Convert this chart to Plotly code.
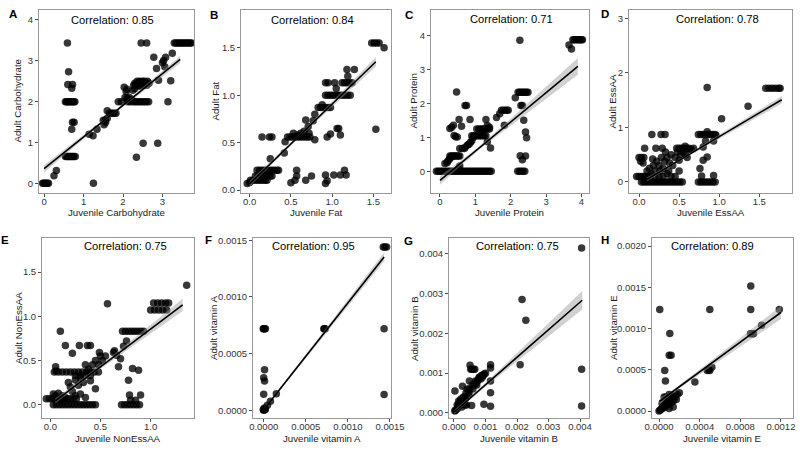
import plotly.graph_objects as go

# ---------------- data ----------------
# Panel A: Carbohydrate
a_x = [-0.04, -0.01, 0.02, 0.05, 0.08, 0.11, 0.25, 0.31,
       0.59, 0.62, 0.60, 0.72, 0.70,
       0.54, 0.57, 0.60, 0.63, 0.66, 0.69, 0.72, 0.75, 0.78,
       0.72, 0.76, 0.70,
       0.54, 0.57, 0.60, 0.63, 0.66, 0.69, 0.72, 0.75, 0.79,
       1.14, 1.24, 1.34, 1.25,
       1.52, 1.55, 1.60, 1.60, 1.66, 1.70, 1.74, 1.78, 1.82, 1.50, 1.56,
       1.88, 1.96, 2.03, 2.08, 2.10, 2.05, 2.10, 2.13, 2.16, 2.20, 2.23, 2.12, 2.18,
       2.25, 2.30, 2.35, 2.40, 2.45, 2.50, 2.55, 2.60, 2.65,
       2.27, 2.30, 2.33, 2.36, 2.40, 2.43, 2.46, 2.50, 2.54, 2.58, 2.62, 2.66, 2.38, 2.45, 2.52, 2.60, 2.30, 2.25,
       2.46, 2.60, 2.51, 2.34,
       2.78, 2.85, 2.90, 2.88,
       3.00, 3.03, 3.08, 3.06, 3.14, 3.21, 3.25,
       3.30, 3.34, 3.38, 3.42, 3.46, 3.50, 3.54, 3.58, 3.62, 3.66, 3.70, 3.74]
a_y = [0.02, 0.02, 0.02, 0.02, 0.02, 0.02, 0.20, 0.33,
       3.43, 2.73, 2.42, 2.42, 2.33,
       2.0, 2.0, 2.0, 2.0, 2.0, 2.0, 2.0, 2.0, 2.0,
       1.50, 1.50, 1.33,
       0.67, 0.67, 0.67, 0.67, 0.67, 0.67, 0.67, 0.67, 0.67,
       1.21, 1.17, 1.33, 0.02,
       1.44, 1.55, 1.60, 1.78, 1.72, 1.72, 1.72, 1.72, 1.72, 1.55, 1.50,
       2.00, 2.00, 2.35, 2.25, 2.30, 2.10, 2.08, 2.05, 2.10, 2.06, 2.04, 2.00, 2.00,
       2.0, 2.0, 2.0, 2.0, 2.0, 2.0, 2.0, 2.0, 2.0,
       2.40, 2.45, 2.42, 2.50, 2.48, 2.50, 2.45, 2.50, 2.50, 2.48, 2.50, 2.45, 2.38, 2.38, 2.40, 2.40, 2.32, 2.28,
       3.43, 3.43, 0.99, 0.65,
       3.08, 2.81, 2.52, 0.99,
       2.95, 3.00, 3.08, 2.85, 2.00, 2.51, 3.18,
       3.43, 3.43, 3.43, 3.43, 3.43, 3.43, 3.43, 3.43, 3.43, 3.43, 3.43, 3.43]

# Panel B: Fat
b_x = [-0.03, 0.00,
       0.01, 0.04, 0.07, 0.10, 0.13, 0.16, 0.19, 0.21,
       0.07, 0.10, 0.13, 0.16, 0.19, 0.22, 0.25, 0.27,
       0.09, 0.12, 0.15, 0.18, 0.21, 0.24, 0.27, 0.30, 0.33, 0.35,
       0.25, 0.15, 0.24, 0.27, 0.42, 0.43,
       0.46, 0.49, 0.52, 0.55, 0.58, 0.61, 0.64, 0.67, 0.70, 0.73,
       0.53, 0.58, 0.62, 0.66, 0.68, 0.71, 0.72,
       0.79, 0.77, 0.79,
       0.83, 0.86, 0.89, 0.92, 0.95, 0.98, 0.88,
       0.92, 0.95,
       0.92, 0.95, 0.98, 1.01, 1.04, 1.07, 1.10, 1.13, 1.16, 1.19, 1.22,
       1.03, 1.05,
       1.12, 1.15, 1.18, 1.21, 1.24,
       1.18, 1.19, 1.27,
       0.94, 0.98, 1.06, 1.10, 1.08,
       0.50, 0.55, 0.57, 0.57, 0.68, 0.75, 0.92, 0.94, 0.92, 1.02, 1.10, 1.15, 1.17,
       1.53,
       1.48, 1.51, 1.54, 1.57, 1.63]
b_y = [0.07, 0.08,
       0.105, 0.105, 0.105, 0.105, 0.105, 0.105, 0.105, 0.105,
       0.15, 0.15, 0.15, 0.15, 0.15, 0.15, 0.15, 0.15,
       0.21, 0.21, 0.21, 0.21, 0.21, 0.21, 0.21, 0.21, 0.21, 0.21,
       0.33, 0.56, 0.56, 0.56, 0.39, 0.51,
       0.56, 0.56, 0.56, 0.56, 0.56, 0.56, 0.56, 0.56, 0.56, 0.56,
       0.60, 0.58, 0.60, 0.62, 0.74, 0.67, 0.60,
       0.80, 0.73, 0.53,
       0.87, 0.87, 0.87, 0.87, 0.87, 0.87, 0.90,
       1.13, 1.13,
       1.0, 1.0, 1.0, 1.0, 1.0, 1.0, 1.0, 1.0, 1.0, 1.0, 1.0,
       1.13, 1.07,
       1.13, 1.13, 1.13, 1.13, 1.13,
       1.27, 1.20, 1.27,
       0.56, 0.59, 0.65, 0.58, 0.65,
       0.077, 0.105, 0.15, 0.21, 0.105, 0.15, 0.07, 0.10, 0.16, 0.16, 0.16, 0.21, 0.16,
       0.64,
       1.55, 1.55, 1.55, 1.55, 1.50]

# Panel C: Protein
c_x = [-0.10, -0.05, 0.00, 0.05, 0.10, 0.15, 0.20, 0.25, 0.30, 0.35, 0.40, 0.45, 0.50, 0.55, 0.60, 0.65,
       0.70, 0.75, 0.80, 0.85, 0.90, 0.95, 1.00, 1.05, 1.10, 1.15, 1.20, 1.25, 1.30, 1.35, 1.40, 1.45,
       2.20, 2.25, 2.30, 2.35, 2.40,
       0.14, 0.20, 0.22, 0.26, 0.30,
       0.28, 0.32, 0.36, 0.40, 0.44, 0.48, 0.52, 0.56,
       0.28, 0.38, 0.33, 0.40, 0.44, 0.49, 0.47, 0.54, 0.61, 0.56, 0.63, 0.69, 0.71, 0.75, 0.85,
       0.72, 0.78, 0.82, 0.86, 0.90, 0.94,
       0.90, 0.95, 1.00, 1.05, 1.10, 1.15, 1.20, 1.25, 1.30,
       1.04, 1.10, 1.15, 1.20, 1.25, 1.30, 1.35, 1.40,
       1.30, 1.34, 1.40, 1.34, 1.43,
       0.56, 0.52,
       1.60, 1.69, 1.74, 1.79, 1.84, 1.89, 1.93, 1.82,
       2.13, 2.26,
       2.21, 2.25, 2.29, 2.33, 2.37, 2.41, 2.45, 2.49,
       2.29, 2.33, 2.37, 2.42, 2.45, 2.27, 2.33, 2.42,
       3.65, 3.72,
       3.76, 3.80, 3.84, 3.88, 3.92, 3.96, 4.00, 4.03]
c_y = [0.0] * 32 + [0.0] * 5 + \
      [0.23, 0.25, 0.30, 0.35, 0.40] + [0.45] * 8 + \
      [1.26, 1.36, 1.30, 1.06, 1.02, 1.01, 2.34, 1.53, 1.33, 0.67, 0.67, 0.67, 1.94, 1.94, 1.53,
       0.72, 0.78, 0.80, 0.85, 0.90, 1.00] + [1.05] * 9 + [1.25] * 8 + \
      [1.53, 1.35, 1.30, 0.87, 0.69,
       0.16, 0.08,
       1.59, 1.70, 1.80, 1.80, 1.80, 1.80, 1.80, 1.36,
       2.17, 3.87] + [2.33] * 8 + \
      [1.94, 1.94, 1.51, 1.16, 0.99, 0.46, 0.34, 0.45,
       3.73, 3.61] + [3.88] * 8

# Panel D: EssAA
d_x = [0.03, 0.06, 0.09, 0.12, 0.15, 0.18, 0.21, 0.24, 0.27, 0.30, 0.33, 0.36, 0.39, 0.42, 0.45, 0.48, 0.51, 0.54,
       0.74, 0.77, 0.80, 0.83, 0.86, 0.89, 0.92, 0.95,
       -0.03, 0.00, 0.03, 0.06, 0.09, 0.12, 0.14,
       0.00, 0.03, 0.06, 0.02, 0.05,
       0.07, 0.16, 0.275, 0.325, 0.21, 0.29,
       0.10, 0.13, 0.15, 0.18, 0.20, 0.22, 0.25, 0.25, 0.28, 0.30, 0.32, 0.35, 0.35, 0.38, 0.40, 0.42, 0.45, 0.48,
       0.50, 0.50, 0.52, 0.55, 0.58, 0.45, 0.40, 0.30, 0.20, 0.12, 0.17, 0.26, 0.33, 0.37, 0.60, 0.62, 0.65, 0.68,
       0.47, 0.50, 0.53, 0.56, 0.59, 0.62, 0.575,
       0.85,
       0.74, 0.77, 0.80, 0.83, 0.86, 0.89, 0.92, 0.95, 0.85,
       0.83, 0.80, 0.80, 0.85, 0.76, 0.78, 0.93, 0.93, 0.96,
       1.03, 1.36,
       1.58, 1.62, 1.66, 1.70, 1.74, 1.76]
d_y = [0.0] * 26 + [0.1] * 7 + \
      [0.45, 0.45, 0.45, 0.38, 0.35,
       0.62, 0.87, 0.87, 0.87, 0.62, 0.62,
       0.20, 0.25, 0.15, 0.30, 0.20, 0.38, 0.10, 0.30, 0.45, 0.25, 0.38, 0.45, 0.15, 0.35, 0.50, 0.30, 0.45, 0.55,
       0.40, 0.20, 0.50, 0.55, 0.50, 0.10, 0.10, 0.10, 0.10, 0.05, 0.42, 0.20, 0.55, 0.20, 0.45, 0.60, 0.60, 0.62] + \
      [0.62] * 6 + [0.655, 1.73] + [0.87] * 8 + \
      [0.92, 0.75, 0.64, 0.40, 0.46, 0.245, 0.11, 0.12, 0.75, 0.85,
       1.16, 1.39] + [1.72] * 6

# Panel E: NonEssAA
e_x = [-0.04, -0.01, 0.02, 0.05, 0.08, 0.11, 0.14, 0.17, 0.20, 0.23, 0.26,
       0.03, 0.06, 0.09, 0.12, 0.15, 0.18, 0.21, 0.24, 0.27, 0.30, 0.33, 0.36, 0.39, 0.42, 0.45,
       0.71, 0.74, 0.77, 0.80, 0.83, 0.86, 0.89,
       0.05, 0.08, 0.10, 0.12, 0.03, 0.15,
       0.10, 0.053, 0.06, 0.15, 0.22,
       0.04, 0.08, 0.12, 0.16, 0.20, 0.24, 0.28, 0.32, 0.36, 0.40, 0.44, 0.48,
       0.25, 0.30, 0.35, 0.40,
       0.29, 0.37, 0.40,
       0.18, 0.20, 0.22, 0.25, 0.28, 0.30, 0.33, 0.35, 0.38, 0.40, 0.42, 0.45, 0.45, 0.48, 0.50, 0.52, 0.55,
       0.49, 0.57, 0.63, 0.64, 0.68, 0.70, 0.66, 0.30, 0.25, 0.35,
       0.72, 0.75, 0.78, 0.81, 0.84, 0.87, 0.90, 0.93,
       0.73, 0.76, 0.78, 0.82, 0.88, 0.79, 0.90, 0.80, 0.85,
       1.00, 1.04, 1.08, 1.12, 1.16,
       1.03, 1.07, 1.11, 1.15, 1.18,
       1.36]
e_y = [0.068] * 11 + [0.0] * 15 + [0.0] * 7 + \
      [0.10, 0.13, 0.05, 0.10, 0.12, 0.08,
       0.83, 0.43, 0.38, 0.67, 0.58] + [0.37] * 12 + [0.33] * 4 + \
      [0.67, 0.67, 0.67,
       0.25, 0.20, 0.15, 0.28, 0.22, 0.30, 0.25, 0.45, 0.40, 0.27, 0.45, 0.18, 0.50, 0.45, 0.55, 0.50, 0.55,
       0.59, 1.14, 0.59, 0.61, 0.43, 0.52, 0.56, 0.12, 0.10, 0.08] + [0.83] * 8 + \
      [0.66, 0.72, 0.275, 0.41, 0.39, 0.11, 0.11, 0.05, 0.05] + [1.07] * 5 + [1.15] * 5 + [1.35]

# Panel F: vitamin A
f_x = [0.0, 0.000005, 0.00001, 0.000015, -0.000005, 0.00002, 0.000008,
       0.0, 0.00001, 0.00002, -0.000005,
       0.00001, 0.0, 0.00001, 0.0,
       0.000044, 0.00008, 0.00015,
       0.000714, 0.000722, 0.00073,
       0.00142, 0.00144, 0.00146,
       0.00143, 0.00143]
f_y = [0.0, 0.000005, 0.00001, 0.000005, 0.000008, 0.000015, 0.00002,
       0.00072, 0.00072, 0.00072, 0.00072,
       0.000359, 0.000288, 0.000259, 0.000141,
       0.000044, 0.00008, 0.000147,
       0.00072, 0.00072, 0.00072,
       0.00144, 0.00144, 0.00144,
       0.00072, 0.00014]

# Panel G: vitamin B
g_x = [0.00004, 0.00003, 0.00003, 0.0001, 0.00012, 0.00015, 0.00018, 0.0002, 0.00022, 0.00025,
       0.00027, 0.0003, 0.00032, 0.00035, 0.00038, 0.0004, 0.0004, 0.00042, 0.00045, 0.00048,
       0.00049, 0.0005, 0.00051, 0.00053, 0.00056, 0.00057, 0.00058, 0.0006, 0.00062, 0.00065,
       0.00066, 0.00068, 0.0007, 0.00072, 0.00075, 0.00078, 0.0008, 0.00083, 0.00085, 0.00088,
       0.0009, 0.00093, 0.00095, 0.00096, 0.001, 0.00015, 0.00025, 0.00035, 0.0001, 0.0002,
       0.00116, 0.00116, 0.00116, 0.00116, 0.00116,
       0.0021, 0.00216, 0.00228,
       0.00405, 0.00405, 0.00405]
g_y = [0.00007, 0.00005, 0.00055, 0.0001, 0.00015, 0.0002, 0.00025, 0.0003, 0.00035, 0.0003,
       0.00067, 0.0004, 0.00025, 0.0004, 0.0005, 0.0002, 0.0004, 0.0006, 0.00045, 0.0005,
       0.0008, 0.0006, 0.0012, 0.0011, 0.00019, 0.0011, 0.0007, 0.0006, 0.0011, 0.0007,
       0.0011, 0.0008, 0.00075, 0.0007, 0.0008, 0.00085, 0.0009, 0.0009, 0.00085, 0.00095,
       0.0009, 0.00095, 0.00022, 0.00098, 0.001, 0.0003, 0.00015, 0.0002, 0.0002, 0.0002,
       0.00121, 0.00113, 0.0008, 0.00051, 0.00017,
       0.00121, 0.00285, 0.00233,
       0.00414, 0.0011, 0.000176]

# Panel H: vitamin E
h_x = [0.0, 0.00001, 0.00002, 0.00003, 0.00004, 0.00005, 0.00006, 0.00007, 0.00008, 0.00009,
       0.0001, 0.00011, 0.00012, 0.00013, 0.00014, 0.00015, 0.00016, 0.00017, 0.00018, 0.0002,
       0.00005, 0.00007, 0.0001, 0.00012, 0.00003, 0.0001, 0.00014,
       0.000007, 0.000056, 0.000063, 0.000106, 0.0001, 0.000119,
       0.000353, 0.000475, 0.00049, 0.0005, 0.00052, 0.0005,
       0.000903, 0.000903, 0.0009, 0.00092, 0.00093,
       0.00101, 0.001184]
h_y = [0.0, 0.00001, 0.00002, 0.00003, 0.00005, 0.00004, 0.00008, 0.00006, 0.0001, 0.00012,
       0.00008, 0.00015, 0.0001, 0.00017, 0.00012, 0.00015, 0.00018, 0.00014, 0.0002, 0.00022,
       0.00017, 0.00017, 0.0002, 0.00019, 0.00009, 0.00003, 0.00005,
       0.00123, 0.00049, 0.000364, 0.00094, 0.000675, 0.000675,
       0.000352, 0.00049, 0.0005, 0.00049, 0.00053, 0.00123,
       0.001515, 0.00123, 0.000937, 0.000937, 0.000937,
       0.00104, 0.00123]

# fitted lines (intercept, slope, x start, x end) and CI half-widths (left, middle, right)
fit_intercept = [0.37, 0.067, -0.27, -0.04, 0.0, 0.000006, 0.000018, 0.000114]
fit_slope = [0.77, 0.84, 0.863, 0.87, 0.855, 0.942, 0.691, 0.90]
fit_x0 = [0.0, 0.0, 0.0, 0.1, 0.05, 0.0, 0.00001, 0.000005]
fit_x1 = [3.45, 1.53, 3.9, 1.78, 1.32, 0.00143, 0.00407, 0.0012]
fit_xmid = [1.75, 0.55, 1.0, 0.45, 0.4, 0.00015, 0.0006, 0.00015]
ci_left = [0.09, 0.03, 0.13, 0.04, 0.03, 0.00001, 0.00005, 0.00004]
ci_mid = [0.03, 0.015, 0.05, 0.02, 0.02, 0.00001, 0.00004, 0.00002]
ci_right = [0.09, 0.05, 0.25, 0.07, 0.07, 0.00004, 0.00023, 0.00008]

correlations = ["0.85", "0.84", "0.71", "0.78", "0.75", "0.95", "0.75", "0.89"]
letters = ["A", "B", "C", "D", "E", "F", "G", "H"]
x_titles = ["Juvenile Carbohydrate", "Juvenile Fat", "Juvenile Protein", "Juvenile EssAA",
            "Juvenile NonEssAA", "Juvenile vitamin A", "Juvenile vitamin B", "Juvenile vitamin E"]
y_titles = ["Adult Carbohydrate", "Adult Fat", "Adult Protein", "Adult EssAA",
            "Adult NonEssAA", "Adult vitamin A", "Adult vitamin B", "Adult vitamin E"]

x_tickvals = [[0, 1, 2, 3], [0, 0.5, 1.0, 1.5], [0, 1, 2, 3, 4], [0, 0.5, 1.0, 1.5],
              [0, 0.5, 1.0], [0, 0.0005, 0.001, 0.0015], [0, 0.001, 0.002, 0.003, 0.004],
              [0, 0.0004, 0.0008, 0.0012]]
x_ticktext = [["0", "1", "2", "3"], ["0.0", "0.5", "1.0", "1.5"], ["0", "1", "2", "3", "4"],
              ["0.0", "0.5", "1.0", "1.5"], ["0.0", "0.5", "1.0"],
              ["0.0000", "0.0005", "0.0010", "0.0015"],
              ["0.000", "0.001", "0.002", "0.003", "0.004"],
              ["0.0000", "0.0004", "0.0008", "0.0012"]]
y_tickvals = [[0, 1, 2, 3, 4], [0, 0.5, 1.0, 1.5], [0, 1, 2, 3, 4], [0, 1, 2, 3],
              [0, 0.5, 1.0, 1.5], [0, 0.0005, 0.001, 0.0015], [0, 0.001, 0.002, 0.003, 0.004],
              [0, 0.0005, 0.001, 0.0015, 0.002]]
y_ticktext = [["0", "1", "2", "3", "4"], ["0.0", "0.5", "1.0", "1.5"], ["0", "1", "2", "3", "4"],
              ["0", "1", "2", "3"], ["0.0", "0.5", "1.0", "1.5"],
              ["0.0000", "0.0005", "0.0010", "0.0015"],
              ["0.000", "0.001", "0.002", "0.003", "0.004"],
              ["0.0000", "0.0005", "0.0010", "0.0015", "0.0020"]]

xs_all = [a_x, b_x, c_x, d_x, e_x, f_x, g_x, h_x]
ys_all = [a_y, b_y, c_y, d_y, e_y, f_y, g_y, h_y]

# ---------------- layout geometry (pixels) ----------------
W, H = 800, 450
boxes = [(39, 194, 10, 193), (241, 391, 10, 193), (431, 589, 10, 193), (629, 792, 10, 193),
         (42, 194, 238, 418), (253, 391, 238, 418), (449, 589, 238, 418), (652, 793, 238, 418)]
x_ranges = [[-0.13, 3.80], [-0.105, 1.714], [-0.254, 4.216], [-0.125, 1.908],
            [-0.083, 1.433], [-0.000127, 0.001512], [-0.000158, 0.004285], [-0.0000692, 0.001319]]
y_ranges = [[-0.22, 4.23], [-0.03, 1.897], [-0.64, 4.76], [-0.202, 3.153],
            [-0.151, 1.885], [-0.0000676, 0.00152], [-0.000126, 0.004393], [-0.0000848, 0.002097]]
corr_pos = [(113, 20), (312, 20), (511, 19), (717, 19), (125, 246), (313, 246), (517, 246), (712, 246)]
letter_pos = [(13, 14), (214, 15), (409, 15), (605, 14), (5, 240), (208, 240), (408, 241), (605, 240)]
ytitle_x = [17, 215, 413, 612, 18, 213, 414, 613]
xtitle_y = [212.5, 212.5, 212.5, 212.5, 438, 438, 438, 438]

FONT = "Liberation Sans, Arial, Helvetica, sans-serif"

fig = go.Figure()
annotations = []
layout = {}

for i in range(8):
    n = i + 1
    xa = "x" if n == 1 else f"x{n}"
    ya = "y" if n == 1 else f"y{n}"
    xs, ys = xs_all[i], ys_all[i]

    # points
    fig.add_trace(go.Scatter(x=xs, y=ys, mode="markers", xaxis=xa, yaxis=ya,
                             marker=dict(size=7.5, color="rgba(0,0,0,0.78)", line=dict(width=0)),
                             showlegend=False, hoverinfo="skip"))

    # confidence band (hyperbolic shape through the three read-off half-widths)
    b0, b1, bm = fit_x0[i], fit_x1[i], fit_xmid[i]
    nb = 30
    bx = [b0 + (b1 - b0) * k / nb for k in range(nb + 1)]
    hw = []
    for x in bx:
        if x <= bm:
            t = (bm - x) / (bm - b0) if bm > b0 else 0
            he = ci_left[i]
        else:
            t = (x - bm) / (b1 - bm)
            he = ci_right[i]
        hw.append((ci_mid[i] ** 2 + (he ** 2 - ci_mid[i] ** 2) * t * t) ** 0.5)
    fy = [fit_intercept[i] + fit_slope[i] * x for x in bx]
    upper = [f + h for f, h in zip(fy, hw)]
    lower = [f - h for f, h in zip(fy, hw)]
    fig.add_trace(go.Scatter(x=bx + bx[::-1], y=upper + lower[::-1], mode="lines",
                             fill="toself", fillcolor="rgba(153,153,153,0.45)",
                             line=dict(width=0), xaxis=xa, yaxis=ya,
                             showlegend=False, hoverinfo="skip"))
    # fit line
    fig.add_trace(go.Scatter(x=[b0, b1], y=[fit_intercept[i] + fit_slope[i] * b0,
                                            fit_intercept[i] + fit_slope[i] * b1],
                             mode="lines", line=dict(color="black", width=1.6),
                             xaxis=xa, yaxis=ya, showlegend=False, hoverinfo="skip"))

    x0, x1, y0, y1 = boxes[i]
    common = dict(showgrid=False, zeroline=False, showline=True, mirror=True,
                  linecolor="#999999", linewidth=1, ticks="outside", ticklen=3,
                  tickcolor="#4d4d4d", tickwidth=1, automargin=False,
                  tickfont=dict(family=FONT, size=9.5, color="#333333"))
    layout["xaxis" if n == 1 else f"xaxis{n}"] = dict(
        domain=[x0 / W, x1 / W], anchor=ya, range=x_ranges[i], ticklabelstandoff=-3,
        tickmode="array", tickvals=x_tickvals[i], ticktext=x_ticktext[i], **common)
    layout["yaxis" if n == 1 else f"yaxis{n}"] = dict(
        domain=[1 - y1 / H, 1 - y0 / H], anchor=xa, range=y_ranges[i],
        tickmode="array", tickvals=y_tickvals[i], ticktext=y_ticktext[i], **common)

    cx, cy = corr_pos[i]
    annotations.append(dict(x=cx / W, y=1 - cy / H, xref="paper", yref="paper",
                            text="Correlation: " + correlations[i], showarrow=False,
                            xanchor="center", yanchor="middle",
                            font=dict(family=FONT, size=11.2, color="black")))
    lx, ly = letter_pos[i]
    annotations.append(dict(x=lx / W, y=1 - ly / H, xref="paper", yref="paper",
                            text="<b>" + letters[i] + "</b>", showarrow=False,
                            xanchor="center", yanchor="middle",
                            font=dict(family=FONT, size=11.5, color="black")))
    annotations.append(dict(x=(x0 + x1) / 2 / W, y=1 - xtitle_y[i] / H, xref="paper", yref="paper",
                            text=x_titles[i], showarrow=False, xanchor="center", yanchor="middle",
                            font=dict(family=FONT, size=9.7, color="#1a1a1a")))
    annotations.append(dict(x=ytitle_x[i] / W, y=1 - (y0 + y1) / 2 / H, xref="paper", yref="paper",
                            text=y_titles[i], showarrow=False, xanchor="center", yanchor="middle",
                            textangle=-90, font=dict(family=FONT, size=9.7, color="#1a1a1a")))

fig.update_layout(width=W, height=H, margin=dict(l=0, r=0, t=0, b=0, autoexpand=False),
                  paper_bgcolor="white", plot_bgcolor="white",
                  annotations=annotations, showlegend=False, **layout)

fig.write_html("out.html", config={"displayModeBar": False},
               post_script="document.body.style.margin='0';document.body.style.overflow='hidden';")
